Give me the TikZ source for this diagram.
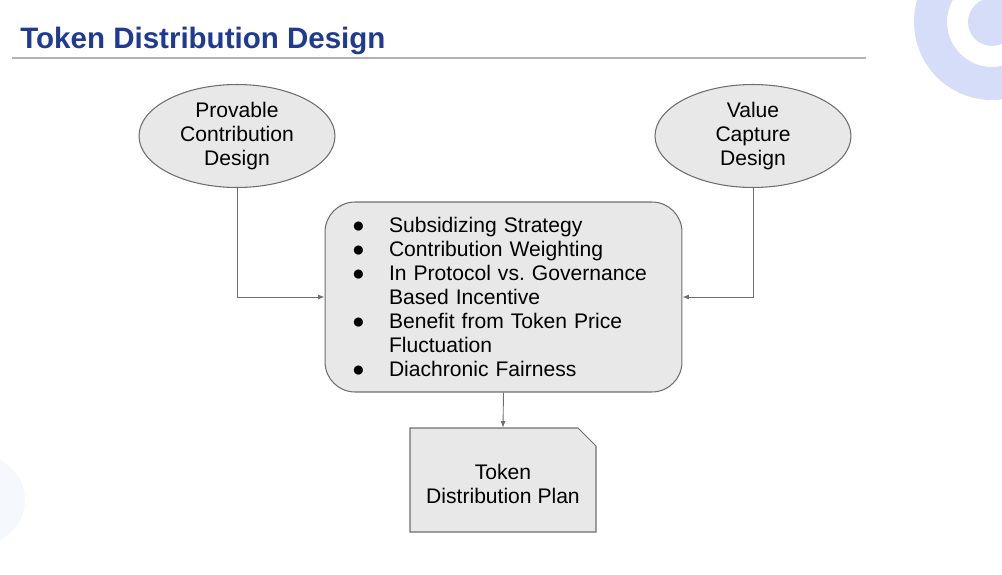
\documentclass[tikz,border=0pt]{standalone}
\usepackage{fontspec}
\setmainfont{Liberation Sans}
\usetikzlibrary{arrows.meta, positioning, shapes.geometric}
\definecolor{titleblue}{RGB}{31, 58, 147}
\definecolor{ringblue}{RGB}{214, 221, 248}
\definecolor{paleblue}{RGB}{245, 249, 254}
\definecolor{boxgray}{RGB}{232, 232, 232}
\definecolor{edgegray}{RGB}{110, 110, 110}
\newcommand{\bul}{\makebox[0.74cm][l]{●}}
\newcommand{\cont}{\hspace*{0.74cm}}

\begin{document}
\begin{tikzpicture}[x=0.02cm, y=-0.02cm,
  bodyfont/.style={font=\fontsize{12}{13.6}\selectfont\frenchspacing},
  goal/.style={ellipse, draw=edgegray, fill=boxgray, line width=0.6pt, inner sep=0pt,
    minimum width=3.92cm, minimum height=2.06cm, align=center, bodyfont},
  factors/.style={rectangle, rounded corners=0.6cm, draw=edgegray, fill=boxgray, line width=0.6pt,
    text width=6.06cm, inner xsep=0.54cm, minimum height=3.8cm, align=left, bodyfont},
  planbox/.style={rectangle, minimum width=3.72cm, minimum height=2.08cm, inner sep=0pt, bodyfont},
  link/.style={draw=edgegray, line width=0.5pt, -{Latex[length=1.3mm, width=1mm]}},
]
  \useasboundingbox (0,0) rectangle (1002,575);

  % Background decoration
  \begin{scope}
    \clip (0,0) rectangle (1002,575);
    \fill[ringblue, even odd rule] (992,22) circle (1.56cm) (992,22) circle (0.9cm);
    \fill[ringblue] (992,22) circle (0.48cm);
    \fill[paleblue] (-20,500) circle (0.9cm);
  \end{scope}

  % Title
  \node[anchor=base west, inner sep=0pt, text=titleblue, font=\fontsize{16.8}{20}\selectfont\bfseries] (title) at (20,48) {Token Distribution Design};
  \draw[gray!60, line width=0.6pt] (12,58) -- (866,58);

  % Inputs
  \node[goal] (prov) at (237,136) {Provable\\Contribution\\Design};
  \node[goal] (val) at (753,136) {Value\\Capture\\Design};

  % Design factors
  \node[factors] (factors) at (503.5,297) {%
    \bul Subsidizing Strategy\\
    \bul Contribution Weighting\\
    \bul In Protocol vs. Governance\\
    \cont Based Incentive\\
    \bul Benefit from Token Price\\
    \cont Fluctuation\\
    \bul Diachronic Fairness};

  % Output (page with folded corner)
  \filldraw[fill=boxgray, draw=edgegray, line width=0.6pt]
    (410,532) -- (410,428) -- (578,428) -- (596,446) -- (596,532) -- cycle;
  \node[planbox] (plan) at (503,480) {\raisebox{-4pt}[\height][\depth]{\begin{tabular}{@{}c@{}}Token\\Distribution Plan\end{tabular}}};

  % Connectors
  \draw[link] (prov.south) |- (factors.west);
  \draw[link] (val.south) |- (factors.east);
  \draw[link] (factors.south) -- (plan.north);
\end{tikzpicture}
\end{document}
